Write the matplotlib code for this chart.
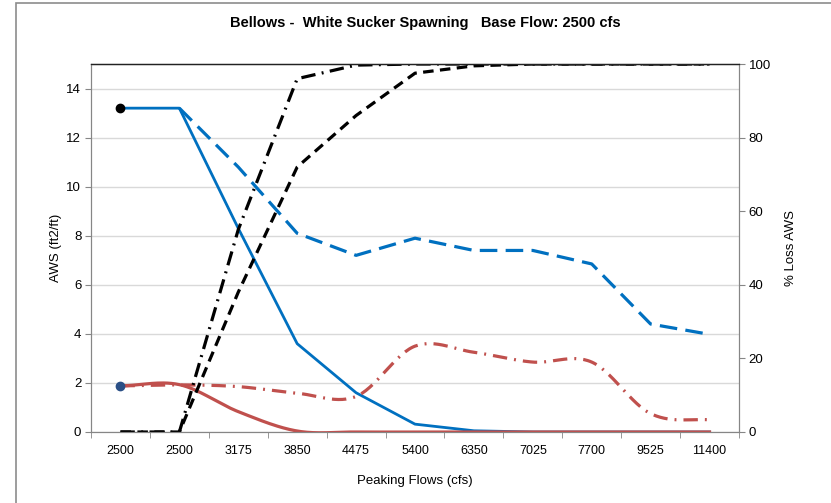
import numpy as np
import matplotlib
matplotlib.use("Agg")
import matplotlib.pyplot as plt
from matplotlib.patches import Rectangle

plt.rcParams['font.family'] = ['Liberation Sans', 'DejaVu Sans']

flows = ["2500", "2500", "3175", "3850", "4475", "5400", "6350", "7025", "7700", "9525", "11400"]

# AWS (ft2/ft), left axis
aws_solid_blue = [13.2, 13.2, 8.3, 3.6, 1.6, 0.32, 0.05, 0, 0, 0, 0]
aws_dash_blue = [np.nan, 13.2, 10.8, 8.1, 7.2, 7.9, 7.4, 7.4, 6.85, 4.4, 3.98]
aws_solid_red = [1.88, 1.93, 0.83, 0.04, 0, 0, 0, 0, 0, 0, 0]
aws_dashdot_red = [1.88, 1.92, 1.85, 1.58, 1.45, 3.5, 3.25, 2.85, 2.85, 0.75, 0.5]
# % loss AWS, right axis
loss_dash = [0, 0, 38, 72, 86, 97.5, 99.5, 100, 100, 100, 100]
loss_dashdot = [0, 0, 55, 96, 99.7, 100, 100, 100, 100, 100, 100]
start_black = 13.2
start_navy = 1.88

def smooth(y, n=30):
    # Catmull-Rom spline through the points (like Excel's smoothed line)
    y = np.asarray(y, dtype=float)
    x = np.arange(len(y), dtype=float)
    xs, ys = [], []
    for i in range(len(y) - 1):
        p0 = y[i - 1] if i > 0 else y[i]
        p1, p2 = y[i], y[i + 1]
        p3 = y[i + 2] if i + 2 < len(y) else y[i + 1]
        t = np.linspace(0, 1, n, endpoint=False)
        yy = 0.5 * (2 * p1 + (-p0 + p2) * t + (2 * p0 - 5 * p1 + 4 * p2 - p3) * t ** 2
                    + (-p0 + 3 * p1 - 3 * p2 + p3) * t ** 3)
        xs.append(x[i] + t)
        ys.append(yy)
    xs.append([x[-1]])
    ys.append([y[-1]])
    return np.concatenate(xs), np.concatenate(ys)

fig = plt.figure(figsize=(8.31, 5.03), dpi=100)
fig.patches.append(Rectangle((16 / 831, -0.1), 1.2, 1.1 - 3 / 503,
                             transform=fig.transFigure, fill=False,
                             edgecolor='#8c8c8c', linewidth=1.2))
ax = fig.add_axes([91 / 831, 71 / 503, 648 / 831, 368 / 503])
ax2 = ax.twinx()

blue = '#0070C0'
red = '#C0504D'
x = np.arange(len(flows))

ax.plot(x, aws_solid_blue, color=blue, lw=2.0, zorder=3)
ax.plot(x, aws_dash_blue, color=blue, lw=2.3, linestyle=(0, (5.5, 2.6)), zorder=3)
sx, sy = smooth(aws_dashdot_red)
ax.plot(sx, sy, color=red, lw=2.3, linestyle=(0, (4.5, 2.2, 0.6, 2.2)), zorder=3)
sx, sy = smooth(aws_solid_red)
ax.plot(sx, sy, color=red, lw=2.3, zorder=4)
ax.plot([0], [start_black], 'o', color='black', markersize=6, zorder=5)
ax.plot([0], [start_navy], 'o', color='#2A4F86', markersize=6, zorder=5)

ax2.plot(x, loss_dash, color='black', lw=2.3, linestyle=(0, (3.3, 2.0)))
ax2.plot(x, loss_dashdot, color='black', lw=2.3, linestyle=(0, (4.5, 2.0, 0.6, 2.0)))

ax.set_xlim(-0.5, len(flows) - 0.5)
ax.set_ylim(0, 15)
ax.set_yticks(np.arange(0, 15, 2))
ax2.set_ylim(0, 100)
ax2.set_yticks(np.arange(0, 101, 20))

ax.set_xticks(x)
ax.set_xticklabels(flows, fontsize=9)
ax.set_xticks(np.arange(-0.5, len(flows), 1), minor=True)
ax.tick_params(axis='x', which='major', length=0, pad=9)
ax.tick_params(axis='x', which='minor', length=4, color='#868686', direction='out')
ax.tick_params(axis='y', length=4, color='#868686', labelsize=9.5, pad=3)
ax2.tick_params(axis='y', length=4, color='#868686', labelsize=9.5, pad=3)

ax.yaxis.grid(True, color='#D9D9D9', linewidth=1.0)
ax.set_axisbelow(True)

for a in (ax, ax2):
    a.spines['left'].set_color('#868686')
    a.spines['right'].set_color('#868686')
    a.spines['bottom'].set_color('#868686')
    a.spines['top'].set_color('#222222')
    a.spines['top'].set_linewidth(0.9)

ax.set_xlabel("Peaking Flows (cfs)", fontsize=9.5, labelpad=13)
ax.set_ylabel("AWS (ft2/ft)", fontsize=9.5, labelpad=3)
ax2.set_ylabel("% Loss AWS", fontsize=9.5, labelpad=10)
fig.text(425 / 831, 1 - 23 / 503, "Bellows -  White Sucker Spawning   Base Flow: 2500 cfs",
         ha='center', va='center', fontsize=10.5, fontweight='bold')

fig.savefig("out.png", dpi=100)
